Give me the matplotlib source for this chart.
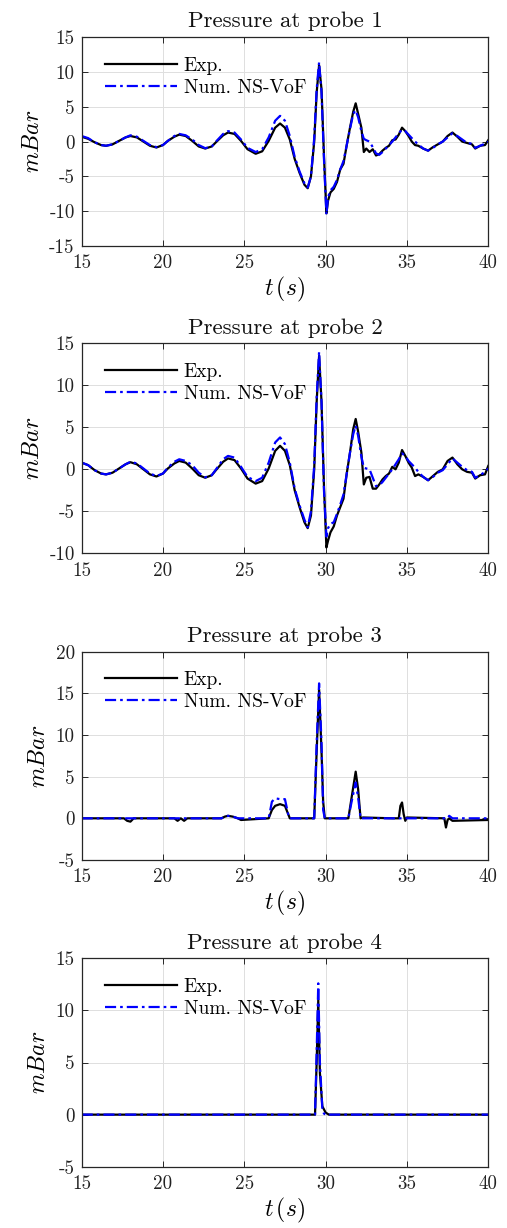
import matplotlib
matplotlib.use("Agg")
import matplotlib.pyplot as plt
from matplotlib.ticker import FixedLocator, FixedFormatter

plt.rcParams['font.family'] = ['cmr10']
plt.rcParams['mathtext.fontset'] = 'cm'
plt.rcParams['axes.unicode_minus'] = False
plt.rcParams['axes.formatter.use_mathtext'] = True

# ---------------- data ----------------
t12 = [15.0, 15.4, 15.8, 16.2, 16.5, 16.9, 17.3, 17.7, 18.0, 18.4, 18.8, 19.2, 19.6, 20.0, 20.3, 20.7,
       21.0, 21.4, 21.8, 22.2, 22.6, 23.0, 23.3, 23.7, 24.0, 24.4, 24.8, 25.2, 25.7, 26.1, 26.5, 26.9,
       27.2, 27.5, 27.8, 28.1, 28.4, 28.7, 28.9, 29.1, 29.3, 29.45, 29.6, 29.75, 29.9, 30.05, 30.15,
       30.3, 30.5, 30.7, 30.9, 31.1, 31.3, 31.5, 31.7, 31.85, 32.0, 32.2, 32.35, 32.5, 32.7, 32.9,
       33.1, 33.3, 33.5, 33.7, 33.9, 34.1, 34.3, 34.5, 34.7, 34.9, 35.1, 35.3, 35.5, 35.7, 36.0,
       36.3, 36.6, 36.9, 37.2, 37.5, 37.8, 38.1, 38.4, 38.7, 39.0, 39.2, 39.5, 39.8, 40.0]

exp1 = [0.7, 0.4, -0.1, -0.5, -0.6, -0.4, 0.1, 0.6, 0.8, 0.6, 0.0, -0.6, -0.85, -0.5, 0.1, 0.7,
        1.0, 0.8, 0.1, -0.7, -1.0, -0.7, 0.0, 0.9, 1.3, 1.1, 0.1, -1.1, -1.75, -1.4, 0.1, 2.0,
        2.6, 2.0, 0.3, -2.5, -4.5, -6.2, -6.7, -5.0, 0.0, 7.0, 11.0, 7.5, -2.0, -10.3, -8.5,
        -7.3, -6.8, -5.8, -4.0, -3.2, -0.5, 2.0, 4.3, 5.5, 4.0, 2.0, -1.5, -1.0, -1.5, -1.1,
        -2.0, -1.8, -1.3, -0.9, -0.6, 0.2, 0.3, 1.0, 2.0, 1.5, 0.8, 0.0, -0.5, -0.6, -1.0,
        -1.3, -0.8, -0.4, 0.0, 0.8, 1.3, 0.7, 0.0, -0.2, -0.4, -1.0, -0.6, -0.5, 0.2]

num1 = [0.8, 0.5, -0.1, -0.5, -0.6, -0.4, 0.1, 0.6, 0.9, 0.7, 0.1, -0.5, -0.8, -0.5, 0.1, 0.8,
        1.1, 0.9, 0.3, -0.5, -0.95, -0.7, 0.1, 1.1, 1.5, 1.3, 0.3, -0.9, -1.5, -1.1, 0.6, 3.0,
        3.7, 3.0, 0.8, -2.2, -4.3, -6.0, -6.6, -5.0, 0.5, 7.5, 11.4, 7.0, -2.5, -10.5, -8.0,
        -7.0, -6.5, -5.5, -4.0, -2.8, -0.5, 1.8, 4.0, 4.5, 3.5, 1.5, 0.4, 0.2, 0.0, -0.8,
        -1.7, -1.9, -1.5, -1.0, -0.5, 0.0, 0.6, 1.2, 1.7, 1.5, 1.0, 0.5, 0.0, -0.4, -1.0,
        -1.3, -0.9, -0.4, 0.0, 0.6, 1.2, 0.8, 0.3, -0.2, -0.3, -0.9, -0.6, -0.3, 0.0]

exp2 = [0.8, 0.5, -0.1, -0.5, -0.6, -0.4, 0.1, 0.6, 0.85, 0.6, 0.0, -0.6, -0.85, -0.5, 0.1, 0.7,
        1.0, 0.8, 0.1, -0.7, -1.0, -0.7, 0.0, 0.9, 1.3, 1.1, 0.1, -1.1, -1.7, -1.4, 0.1, 2.2,
        2.8, 2.2, 0.5, -2.5, -4.5, -6.3, -7.0, -5.5, 0.0, 8.0, 13.5, 8.0, -2.0, -9.3, -8.5,
        -7.5, -6.8, -5.5, -4.5, -3.5, -0.5, 2.0, 4.8, 6.0, 4.5, 2.0, -1.8, -1.0, -0.9, -2.3,
        -2.3, -1.8, -1.2, -0.8, -0.5, 0.3, 0.0, 0.8, 2.3, 1.6, 0.8, 0.2, -0.8, -0.6, -0.9,
        -1.3, -0.8, -0.3, 0.0, 1.0, 1.4, 0.6, 0.0, -0.3, -0.4, -1.1, -0.7, -0.6, 0.4]

num2 = [0.8, 0.5, -0.1, -0.5, -0.6, -0.4, 0.1, 0.6, 0.9, 0.7, 0.1, -0.5, -0.8, -0.5, 0.2, 0.9,
        1.2, 1.0, 0.5, -0.4, -0.95, -0.7, 0.1, 1.2, 1.6, 1.4, 0.3, -0.9, -1.4, -1.0, 0.8, 3.2,
        3.8, 3.0, 0.8, -2.3, -4.3, -6.0, -6.9, -5.0, 0.5, 8.5, 14.0, 8.0, -2.5, -8.0, -7.0,
        -6.5, -6.3, -5.3, -4.2, -3.0, -0.5, 2.0, 4.2, 5.2, 4.0, 1.5, 0.2, 0.1, 0.0, -1.0,
        -2.0, -1.9, -1.5, -1.0, -0.5, 0.0, 0.6, 1.2, 1.9, 1.6, 1.0, 0.6, 0.2, -0.3, -0.9,
        -1.3, -0.9, -0.4, -0.1, 0.6, 1.3, 0.8, 0.3, -0.1, -0.3, -1.0, -0.7, -0.3, 0.1]

t3 = [15.0, 17.6, 17.8, 18.0, 18.2, 20.7, 20.9, 21.1, 21.3, 21.5, 23.6, 23.8, 24.0, 24.3, 24.6,
      24.8, 26.5, 26.7, 26.9, 27.2, 27.5, 27.7, 27.8, 29.3, 29.45, 29.6, 29.75, 29.85, 29.95,
      31.4, 31.6, 31.85, 32.0, 32.15, 32.3, 34.1, 34.5, 34.6, 34.7, 34.8, 34.9, 35.0, 37.3,
      37.4, 37.5, 37.6, 37.8, 40.0]
exp3 = [0.0, 0.0, -0.3, -0.4, 0.0, 0.0, -0.3, 0.0, -0.3, 0.0, 0.0, 0.2, 0.3, 0.2, 0.0,
        -0.2, 0.0, 1.0, 1.5, 1.7, 1.5, 0.5, 0.0, 0.0, 8.0, 15.5, 8.0, 2.0, 0.0,
        0.0, 2.5, 5.6, 3.5, 0.0, 0.1, 0.0, 0.0, 1.5, 1.9, 0.5, -0.3, 0.1, 0.0,
        -1.1, -0.2, 0.0, -0.3, -0.2]
num3 = [0.0, 0.0, 0.0, 0.0, 0.0, 0.0, 0.0, 0.0, 0.0, 0.0, 0.0, 0.2, 0.3, 0.2, 0.0,
        0.0, 0.0, 2.0, 2.4, 2.3, 2.3, 0.5, 0.0, 0.0, 9.0, 16.2, 9.0, 1.0, 0.0,
        0.0, 2.0, 4.3, 2.5, 0.0, 0.0, 0.0, 0.0, 0.0, 0.0, 0.0, 0.0, 0.0, 0.0,
        0.0, 0.0, 0.3, 0.0, 0.0]

t4 = [15.0, 29.35, 29.45, 29.55, 29.65, 29.8, 29.9, 30.0, 30.2, 40.0]
exp4 = [0.0, 0.0, 5.0, 11.0, 4.0, 0.8, 0.5, 0.2, 0.0, 0.0]
num4 = [0.0, 0.0, 6.0, 12.6, 5.0, 0.5, 0.1, 0.0, 0.0, 0.0]

titles = ["Pressure at probe 1", "Pressure at probe 2", "Pressure at probe 3", "Pressure at probe 4"]
ylims = [(-15, 15), (-10, 15), (-5, 20), (-5, 15)]
xticks = [15, 20, 25, 30, 35, 40]
legend_labels = ["Exp.", "Num. NS-VoF"]

series = [(t12, exp1, num1), (t12, exp2, num2), (t3, exp3, num3), (t4, exp4, num4)]
show_xlabel = [True, False, True, True]

# ---------------- layout ----------------
fig = plt.figure(figsize=(5.07, 12.28), dpi=100)
left, width = 0.161, 0.802
boxes = [(0.7997, 0.170), (0.5494, 0.171), (0.2997, 0.1696), (0.0499, 0.1697)]
dark = '#262626'

for i, ((t, e, n), (b, h)) in enumerate(zip(series, boxes)):
    ax = fig.add_axes([left, b, width, h])
    ax.plot(t, e, color='black', lw=1.6, label=legend_labels[0])
    ax.plot(t, n, color=(0, 0, 1), lw=1.6, ls=(0, (5, 1.8, 1.2, 1.8)), label=legend_labels[1])
    ax.set_xlim(15, 40)
    ax.set_ylim(*ylims[i])
    yt = list(range(ylims[i][0], ylims[i][1] + 1, 5))
    ax.yaxis.set_major_locator(FixedLocator(yt))
    ax.yaxis.set_major_formatter(FixedFormatter([str(v) for v in yt]))
    ax.xaxis.set_major_locator(FixedLocator(xticks))
    ax.xaxis.set_major_formatter(FixedFormatter([str(v) for v in xticks]))
    ax.grid(True, color='#dfdfdf', lw=0.7)
    ax.set_axisbelow(True)
    for s in ax.spines.values():
        s.set_color(dark)
        s.set_linewidth(0.9)
    ax.tick_params(direction='in', top=True, right=True, length=4, width=0.7,
                   labelsize=13.7, colors=dark, labelcolor='#222222')
    ax.tick_params(axis='x', pad=6)
    ax.tick_params(axis='y', pad=5)
    ax.set_title(titles[i], fontsize=16.5, pad=7, color='#111111')
    ax.set_ylabel(r'$mBar$', fontsize=17, labelpad=4)
    if show_xlabel[i]:
        ax.set_xlabel(r'$t\,(s)$', fontsize=17, labelpad=2)
    ax.legend(loc='upper left', bbox_to_anchor=(0.057, 0.906), frameon=False,
              fontsize=14, handlelength=3.7, handletextpad=0.36, labelspacing=0.2,
              borderaxespad=0.0, borderpad=0.0)

fig.savefig("out.png", dpi=100)
